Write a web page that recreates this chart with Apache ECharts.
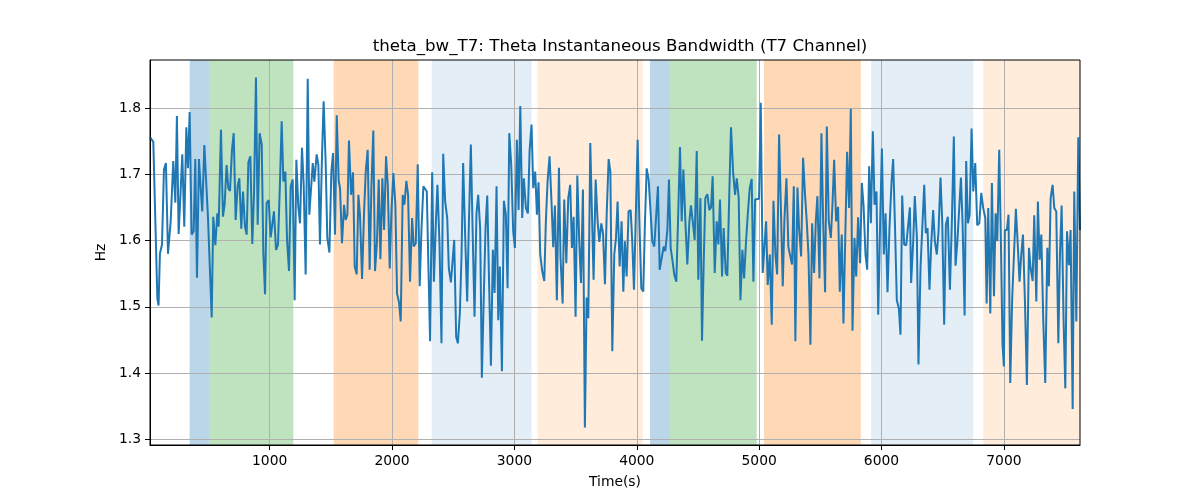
<!DOCTYPE html>
<html>
<head>
<meta charset="utf-8">
<script src="https://cdn.jsdelivr.net/npm/echarts@6/dist/echarts.min.js"></script>
<style>
html,body{margin:0;padding:0;background:#fff;}
#c{width:1200px;height:500px;}
</style>
</head>
<body>
<div id="c"></div>
<script>
// ---------------- DATA ----------------
const titleText = 'theta_bw_T7: Theta Instantaneous Bandwidth (T7 Channel)';
const xName = 'Time(s)';
const yName = 'Hz';
const xTicks = [1000, 2000, 3000, 4000, 5000, 6000, 7000];
const yTicks = [1.3, 1.4, 1.5, 1.6, 1.7, 1.8];

const times = [22,38,49,82,92,103,120,136,152,169,191,212,229,242,256,286,302,319,332,346,362,379,392,406,422,436,449,466,496,526,539,556,572,583,602,618,632,648,662,676,692,706,722,738,752,768,782,798,812,826,842,858,872,888,902,918,935,948,962,975,992,1008,1022,1035,1052,1068,1084,1098,1112,1128,1142,1158,1172,1188,1204,1218,1234,1248,1264,1278,1294,1311,1324,1338,1352,1365,1384,1398,1411,1428,1441,1458,1471,1488,1504,1518,1534,1548,1564,1575,1591,1608,1621,1635,1648,1665,1681,1695,1711,1725,1738,1755,1771,1785,1801,1817,1831,1847,1861,1877,1891,1905,1921,1935,1951,1965,1981,1995,2011,2027,2041,2057,2071,2087,2101,2117,2131,2147,2164,2177,2194,2210,2226,2240,2256,2270,2284,2297,2311,2328,2342,2358,2371,2388,2404,2418,2434,2451,2464,2481,2494,2508,2524,2538,2554,2568,2581,2598,2614,2628,2644,2658,2674,2690,2704,2720,2734,2748,2764,2778,2794,2808,2824,2838,2854,2868,2881,2898,2914,2930,2944,2958,2974,2990,3004,3020,3034,3048,3064,3077,3094,3110,3124,3140,3154,3170,3184,3197,3211,3227,3244,3257,3271,3287,3304,3317,3331,3347,3364,3377,3394,3407,3424,3440,3456,3470,3484,3500,3514,3530,3544,3560,3576,3590,3604,3620,3634,3647,3664,3680,3694,3710,3724,3740,3754,3770,3784,3800,3816,3830,3843,3860,3876,3890,3903,3917,3933,3950,3963,3977,3991,4007,4021,4037,4053,4067,4081,4097,4113,4127,4143,4157,4173,4187,4203,4220,4233,4250,4263,4277,4293,4307,4323,4337,4353,4367,4381,4397,4413,4430,4443,4460,4473,4490,4503,4520,4533,4547,4560,4577,4593,4607,4620,4637,4653,4667,4680,4697,4710,4727,4740,4757,4770,4787,4803,4817,4833,4847,4863,4877,4893,4907,4923,4939,4953,4967,4983,4999,5013,5029,5043,5057,5070,5087,5103,5117,5133,5147,5163,5177,5193,5206,5223,5239,5253,5269,5283,5296,5313,5326,5343,5359,5375,5389,5403,5419,5433,5449,5463,5476,5493,5509,5523,5539,5553,5569,5586,5599,5613,5629,5645,5659,5675,5689,5703,5719,5735,5749,5763,5779,5793,5809,5825,5839,5853,5869,5883,5899,5913,5929,5943,5959,5973,5989,6003,6019,6033,6049,6065,6082,6095,6109,6125,6142,6155,6169,6185,6202,6218,6232,6242,6259,6272,6289,6302,6319,6332,6349,6362,6376,6392,6406,6422,6436,6452,6466,6482,6496,6512,6526,6542,6559,6575,6591,6605,6619,6635,6649,6662,6679,6692,6706,6720,6736,6750,6766,6782,6799,6815,6831,6848,6859,6872,6889,6902,6919,6932,6946,6962,6976,6989,7000,7008,7025,7038,7052,7068,7082,7098,7112,7128,7142,7156,7172,7188,7205,7218,7235,7248,7265,7278,7292,7306,7322,7338,7355,7368,7382,7398,7412,7428,7445,7458,7472,7488,7502,7516,7532,7545,7562,7575,7592,7608,7622];

const hz = [1.756,1.755,1.749,1.513,1.502,1.580,1.594,1.707,1.717,1.580,1.629,1.720,1.657,1.788,1.610,1.730,1.621,1.771,1.709,1.794,1.609,1.614,1.723,1.544,1.723,1.680,1.644,1.744,1.634,1.484,1.636,1.593,1.641,1.621,1.767,1.636,1.655,1.714,1.679,1.675,1.737,1.762,1.631,1.682,1.694,1.618,1.674,1.621,1.609,1.718,1.727,1.595,1.670,1.846,1.624,1.762,1.745,1.583,1.519,1.657,1.661,1.605,1.625,1.644,1.586,1.594,1.687,1.780,1.689,1.704,1.601,1.554,1.682,1.692,1.510,1.722,1.651,1.626,1.740,1.684,1.549,1.844,1.639,1.636,1.717,1.689,1.730,1.714,1.594,1.730,1.810,1.714,1.604,1.582,1.704,1.732,1.609,1.789,1.690,1.679,1.596,1.654,1.631,1.639,1.751,1.669,1.703,1.561,1.549,1.669,1.639,1.542,1.641,1.704,1.737,1.556,1.679,1.766,1.554,1.598,1.692,1.572,1.694,1.616,1.727,1.684,1.558,1.644,1.702,1.654,1.520,1.507,1.478,1.669,1.654,1.690,1.669,1.538,1.634,1.591,1.596,1.715,1.531,1.614,1.682,1.684,1.674,1.563,1.448,1.703,1.538,1.626,1.684,1.594,1.445,1.731,1.659,1.634,1.558,1.537,1.538,1.601,1.455,1.445,1.490,1.579,1.717,1.604,1.508,1.626,1.745,1.619,1.485,1.641,1.669,1.619,1.393,1.503,1.619,1.668,1.528,1.411,1.586,1.521,1.682,1.480,1.561,1.403,1.660,1.639,1.528,1.762,1.714,1.614,1.589,1.752,1.646,1.803,1.634,1.694,1.649,1.641,1.735,1.775,1.679,1.704,1.639,1.688,1.579,1.554,1.539,1.629,1.689,1.727,1.654,1.590,1.653,1.510,1.710,1.573,1.505,1.662,1.566,1.664,1.684,1.589,1.636,1.485,1.698,1.599,1.536,1.677,1.318,1.514,1.483,1.747,1.639,1.541,1.692,1.629,1.598,1.626,1.611,1.534,1.639,1.723,1.704,1.433,1.579,1.604,1.659,1.561,1.629,1.523,1.599,1.546,1.644,1.646,1.599,1.526,1.629,1.752,1.629,1.528,1.523,1.629,1.709,1.692,1.692,1.599,1.591,1.590,1.682,1.556,1.556,1.591,1.584,1.616,1.692,1.589,1.568,1.548,1.538,1.629,1.741,1.629,1.707,1.629,1.564,1.629,1.653,1.624,1.601,1.735,1.541,1.664,1.449,1.568,1.664,1.670,1.646,1.650,1.697,1.551,1.629,1.594,1.662,1.546,1.619,1.551,1.547,1.679,1.771,1.704,1.669,1.694,1.664,1.510,1.586,1.543,1.599,1.639,1.679,1.693,1.538,1.662,1.663,1.663,1.808,1.551,1.553,1.629,1.533,1.579,1.473,1.660,1.579,1.549,1.760,1.654,1.531,1.629,1.694,1.590,1.589,1.564,1.682,1.448,1.680,1.619,1.576,1.725,1.669,1.629,1.579,1.443,1.626,1.551,1.629,1.667,1.543,1.762,1.629,1.522,1.772,1.629,1.604,1.654,1.722,1.629,1.651,1.523,1.609,1.475,1.599,1.734,1.649,1.799,1.464,1.604,1.546,1.635,1.566,1.687,1.654,1.579,1.556,1.712,1.626,1.765,1.654,1.674,1.488,1.629,1.739,1.579,1.641,1.522,1.619,1.689,1.723,1.629,1.510,1.497,1.458,1.668,1.594,1.593,1.594,1.650,1.536,1.599,1.667,1.604,1.413,1.561,1.561,1.684,1.611,1.619,1.526,1.594,1.646,1.599,1.579,1.614,1.695,1.629,1.473,1.624,1.636,1.526,1.629,1.757,1.562,1.596,1.594,1.695,1.629,1.487,1.720,1.626,1.639,1.769,1.674,1.717,1.623,1.626,1.672,1.649,1.634,1.505,1.649,1.490,1.687,1.516,1.641,1.599,1.737,1.594,1.443,1.410,1.616,1.616,1.639,1.385,1.514,1.516,1.648,1.599,1.538,1.579,1.609,1.508,1.382,1.589,1.559,1.539,1.638,1.508,1.659,1.571,1.609,1.478,1.385,1.589,1.531,1.664,1.684,1.649,1.644,1.445,1.579,1.653,1.478,1.377,1.614,1.563,1.616,1.346,1.674,1.478,1.756,1.616];

// shaded intervals
const spanStarts = [346, 509, 1523, 2324, 3189, 4108, 4271, 5040, 5915, 6831];
const spanEnds   = [509, 1193, 2215, 3140, 4048, 4271, 4980, 5831, 6749, 7622];
const spanKinds  = ['blueStrong','green','orangeStrong','blueLight','orangeLight','blueStrong','green','orangeStrong','blueLight','orangeLight'];

// ---------------- STYLE ----------------
const spanColors = {
  blueStrong: 'rgba(31,119,180,0.30)',
  green: 'rgba(44,160,44,0.30)',
  orangeStrong: 'rgba(255,127,14,0.30)',
  blueLight: 'rgba(31,119,180,0.12)',
  orangeLight: 'rgba(255,127,14,0.15)'
};
const FONT = 'DejaVu Sans';

const yMinD = Math.min(...hz), yMaxD = Math.max(...hz);
const yPad = (yMaxD - yMinD) * 0.05;

const chart = echarts.init(document.getElementById('c'), null, {renderer: 'canvas'});
const lineData = times.map((t, i) => [t, hz[i]]);
const areas = spanStarts.map((s, i) => [
  {xAxis: s, itemStyle: {color: spanColors[spanKinds[i]]}},
  {xAxis: spanEnds[i]}
]);

chart.setOption({
  animation: false,
  backgroundColor: '#ffffff',
  title: {
    text: titleText,
    left: 615, top: 33, textAlign: 'center',
    textStyle: {fontFamily: FONT, fontSize: 16.67, fontWeight: 'normal', color: '#000'}
  },
  grid: {left: 150, right: 120, top: 60, bottom: 55, show: true, borderColor: '#000', borderWidth: 1, backgroundColor: 'transparent', z: 4},
  xAxis: {
    type: 'value', z: 2,
    min: times[0], max: times[times.length - 1],
    name: xName, nameLocation: 'middle', nameGap: 30,
    nameTextStyle: {fontFamily: FONT, fontSize: 13.89, color: '#000'},
    axisLine: {show: true, onZero: false, lineStyle: {color: '#000', width: 1}},
    axisTick: {show: true, inside: false, length: 5, lineStyle: {color: '#000', width: 1}, customValues: xTicks},
    axisLabel: {customValues: xTicks, margin: 9, color: '#000', fontFamily: FONT, fontSize: 13.89, formatter: v => String(Math.round(v))},
    splitLine: {show: true, lineStyle: {color: '#b0b0b0', width: 1}}
  },
  yAxis: {
    type: 'value', z: 2,
    min: yMinD - yPad, max: yMaxD + yPad,
    name: yName, nameLocation: 'middle', nameGap: 37,
    nameTextStyle: {fontFamily: FONT, fontSize: 13.89, color: '#000'},
    axisLine: {show: true, onZero: false, lineStyle: {color: '#000', width: 1}},
    axisTick: {show: true, inside: false, length: 5, lineStyle: {color: '#000', width: 1}, customValues: yTicks},
    axisLabel: {customValues: yTicks, margin: 9, color: '#000', fontFamily: FONT, fontSize: 13.89, formatter: v => v.toFixed(1)},
    splitLine: {show: true, lineStyle: {color: '#b0b0b0', width: 1}}
  },
  series: [
    {type: 'line', data: [], z: 1, silent: true, markArea: {silent: true, data: areas}},
    {type: 'line', data: lineData, z: 3, showSymbol: false, symbol: 'none', silent: true,
     lineStyle: {color: '#1f77b4', width: 2}, itemStyle: {color: '#1f77b4'}}
  ]
});
</script>
</body>
</html>
